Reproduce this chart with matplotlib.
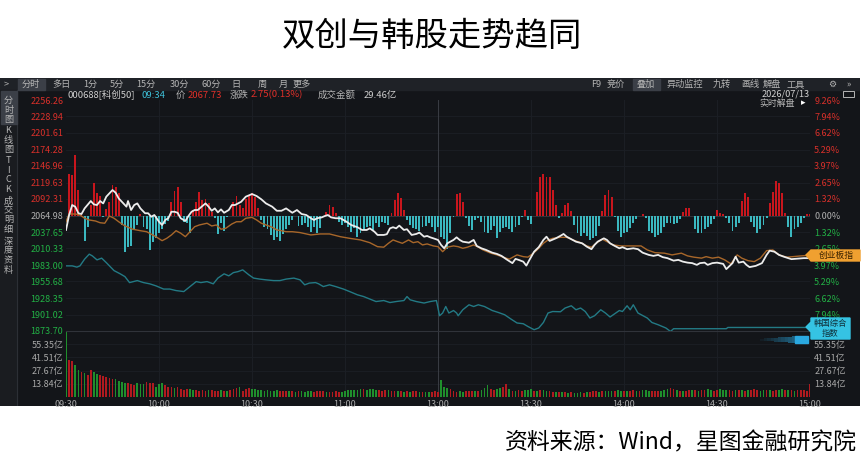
import matplotlib.pyplot as plt
from matplotlib.patches import Rectangle, Polygon

W, H = 865, 471
plt.rcParams['font.family'] = ['Noto Sans CJK SC', 'DejaVu Sans']

# ---- data ----
prev_close = 2064.98
price_ticks = [2256.26, 2228.94, 2201.61, 2174.28, 2146.96, 2119.63, 2092.31, 2064.98,
               2037.65, 2010.33, 1983.00, 1955.68, 1928.35, 1901.02, 1873.70]
pct_labels = ['9.26%', '7.94%', '6.62%', '5.29%', '3.97%', '2.65%', '1.32%', '0.00%',
              '1.32%', '2.65%', '3.97%', '5.29%', '6.62%', '7.94%', '']
vol_ticks = [13.84, 27.67, 41.51, 55.35]
time_ticks = [0, 30, 60, 90, 120, 150, 180, 210, 240]
time_labels = ['09:30', '10:00', '10:30', '11:00', '13:00', '13:30', '14:00', '14:30', '15:00']

# 科创50 (minute index, % change)
kc50_t = [0, 1, 2, 3, 4, 5, 6, 8, 9, 10, 11, 12, 13, 15, 16, 17, 18.5, 19.5, 20, 21, 22, 23, 24,
          25.5, 26.5, 27.5, 28.5, 30, 31, 32, 33, 34, 35, 36, 37, 38.5, 39.5, 40.5, 41.5, 42.5,
          44, 45, 46, 47, 48, 49, 50, 51, 52.5, 53.5, 54.5, 55.5, 56.5, 58, 60, 61.5, 63, 64.5,
          66.5, 68, 69.5, 71, 73, 74.5, 76, 77.5, 79, 80, 81, 82.5, 83.5, 84.5, 85.5, 87, 88.5,
          89.5, 90.5, 92, 94, 95.5, 97, 98, 99.5, 100.5, 102.5, 103.5, 104.5, 105.5, 106.5,
          107.5, 109, 110, 111.5, 113, 114, 115.5, 116.5, 117.5, 118.5, 120, 121, 122, 123, 125,
          126, 127, 128, 130, 131.5, 132.5, 134, 135.5, 137.5, 139, 140.5, 142, 144, 145, 146,
          147.5, 148.5, 149.5, 151, 152.5, 154, 155, 156, 158, 159.5, 160.5, 161.5, 163, 164.5,
          166.5, 168, 169.5, 170.5, 171.5, 173.5, 174.5, 175.5, 177, 178.5, 179.5, 181, 183,
          184.5, 186, 188, 189.5, 191, 192.5, 194, 196, 197.5, 199, 200.5, 202, 203.5, 204.5,
          206, 207, 208.5, 210, 212, 213, 215, 216, 217, 218.5, 219.5, 220.5, 222.5, 224.5, 226,
          227, 228.5, 230, 231.5, 234, 236, 238, 240]
kc50_pct = [-1.16, 0.04, 0.84, 0.70, 0.18, 0.12, 0.57, 1.16, 0.89, 0.84, 1.16, 0.97, 1.51, 2.04,
            1.83, 1.37, 0.97, 0.71, 1.16, 0.44, 0.84, 0.97, 0.57, 0.18, 0.18, -0.10, 0.04, -0.50,
            -0.76, -0.36, -0.22, 0.30, 0.30, 0.22, -0.22, -0.44, -0.04, 0.30, 0.44, 0.44, 0.76,
            0.97, 0.71, 0.38, 0.57, 0.25, 0.49, 0.22, 0.44, 0.84, 0.84, 0.97, 1.10, 1.51, 1.72,
            1.56, 1.30, 0.97, 0.71, 0.38, 0.38, 0.57, 0.22, 0.44, 0.12, 0.04, -0.22, -0.36, -0.22,
            -0.15, -0.04, 0.04, -0.15, -0.22, -0.22, -0.36, -0.50, -0.76, -0.94, -1.16, -1.16,
            -1.03, -1.30, -1.56, -1.56, -1.50, -1.03, -0.94, -1.03, -0.81, -1.16, -1.10, -1.56,
            -1.48, -1.37, -1.70, -1.64, -1.75, -1.83, -1.96, -2.36, -2.63, -2.23, -1.96, -1.75,
            -1.96, -2.10, -2.18, -1.96, -2.44, -2.63, -2.76, -2.98, -3.08, -3.24, -3.50, -3.82,
            -3.48, -3.56, -3.70, -4.02, -3.56, -2.90, -2.54, -1.96, -1.70, -2.04, -1.83, -1.63,
            -1.48, -1.70, -1.90, -2.10, -2.23, -2.50, -2.70, -2.36, -2.10, -1.83, -1.96, -2.23,
            -2.44, -2.63, -2.54, -2.70, -2.63, -2.70, -2.98, -3.16, -3.24, -3.16, -3.34, -3.42,
            -3.62, -3.56, -3.70, -3.78, -3.82, -3.96, -3.82, -3.78, -3.96, -3.82, -3.78, -3.88,
            -4.30, -3.82, -3.30, -3.78, -3.70, -3.96, -4.14, -4.04, -3.82, -3.16, -2.82, -2.90,
            -3.16, -3.30, -3.50, -3.46, -3.42, -3.42]

# 创业板指 (minute index, % change)
cyb_t = [0, 1, 3, 4.5, 6, 7.5, 9.5, 11, 12.5, 14, 15.5, 17, 18.5, 20, 21.5, 24, 26, 27.5, 29, 31,
         32.5, 34, 35.5, 37, 38.5, 40, 41.5, 43, 45.5, 47, 48.5, 50, 51.5, 53.5, 55, 56.5, 58, 60,
         61.5, 63, 64.5, 66.5, 68, 69.5, 71, 73, 75.5, 77.5, 79, 82, 85, 88.5, 91.5, 95, 98,
         100.5, 102.5, 104, 105.5, 107, 108.5, 110.5, 112, 113.5, 115, 116.5, 118.5, 120, 121.5,
         123, 125, 126.5, 128, 129.5, 131.5, 133, 134.5, 137, 139, 141, 143, 145.5, 147.5, 149,
         151, 152.5, 154, 155.5, 157, 159.5, 161.5, 163.5, 166, 168, 169.5, 171, 173, 174.5,
         176.5, 179, 181, 184, 185.5, 187.5, 190, 193, 195.5, 198.5, 200.5, 202.5, 205, 206.5,
         208.5, 210.5, 212.5, 214.5, 216.5, 218, 220, 222, 224, 226, 228, 230, 232.5, 234.5,
         237, 240]
cyb_pct = [-0.50, 0.12, 0.12, 0.04, -0.22, -0.36, -0.44, -0.58, -0.62, -0.04, -0.22, -0.50,
           -0.76, -0.94, -1.10, -1.22, -1.30, -1.50, -1.70, -2.02, -1.83, -1.56, -1.22, -1.42,
           -1.70, -1.30, -0.90, -0.76, -0.62, -0.84, -0.76, -1.10, -1.03, -0.68, -0.50, -0.50,
           -0.22, -0.15, -0.36, -0.62, -0.76, -0.94, -1.16, -1.22, -1.30, -1.30, -1.37, -1.48,
           -1.56, -1.48, -1.48, -1.70, -1.83, -1.96, -2.18, -2.50, -2.54, -2.23, -1.96, -2.10,
           -2.23, -1.96, -2.18, -2.10, -2.36, -2.28, -2.44, -2.50, -2.90, -2.54, -2.44, -2.50,
           -2.63, -2.54, -2.36, -2.54, -2.76, -3.02, -3.16, -3.34, -3.50, -3.16, -3.30, -3.34,
           -2.98, -2.63, -2.23, -1.96, -1.83, -1.75, -1.75, -1.96, -2.18, -2.44, -2.54, -2.23,
           -1.90, -2.10, -2.36, -2.44, -2.44, -2.44, -2.44, -2.76, -2.98, -3.02, -3.16, -3.02,
           -3.24, -3.34, -3.42, -3.30, -3.42, -3.34, -3.56, -3.88, -3.16, -3.42, -3.62, -3.70,
           -3.42, -2.82, -2.76, -3.16, -3.34, -3.30, -3.24, -3.19]

# 韩国综合指数 (minute index, % change on the same scale)
kospi_t = [0, 2, 3.5, 4.5, 6, 7.5, 8.5, 10, 11.5, 13, 15.5, 17.5, 19, 20.5, 23, 25, 27, 29,
           31.5, 33.5, 35.5, 38, 40, 42, 43.5, 45.5, 47.5, 49, 51, 52.5, 54, 55.5, 57, 59, 60.5,
           62.5, 64.5, 67, 69, 71, 73.5, 75.5, 77, 78.5, 80.5, 81.5, 83, 85, 87, 89.5, 91.5, 94,
           96, 98, 100, 102.5, 104.5, 106.5, 109, 110, 111, 113, 115.5, 117.5, 119.5, 120.5,
           121.5, 122.5, 123.5, 125, 126, 126.5, 128, 130, 131.5, 133, 135, 137.5, 139.5, 141.5,
           143.5, 145.5, 147.5, 149, 151, 152.5, 154, 155.5, 157, 159.5, 161, 163, 164.5, 166,
           167.5, 169, 170.5, 172.5, 174, 175.5, 177, 178.5, 179.5, 181, 182, 183, 184.5, 187.5,
           189, 191, 193.5, 195, 196, 203, 213, 213.5, 240]
kospi_pct = [-4.04, -4.04, -4.14, -4.04, -3.50, -3.10, -3.24, -3.56, -3.42, -3.78, -4.42, -4.68,
             -4.90, -5.38, -5.22, -5.38, -5.48, -5.64, -5.90, -5.90, -6.02, -6.10, -5.70, -5.30,
             -5.38, -5.30, -5.48, -5.02, -4.68, -4.84, -4.58, -4.50, -4.36, -4.76, -5.02, -5.10,
             -5.16, -5.22, -5.22, -5.10, -5.02, -5.16, -5.56, -5.42, -5.38, -5.48, -5.70, -5.56,
             -5.70, -5.90, -6.10, -6.36, -6.50, -6.70, -6.90, -6.82, -6.98, -6.90, -6.82, -6.50,
             -6.76, -6.90, -7.02, -6.90, -6.82, -8.04, -7.82, -7.30, -7.82, -7.62, -7.82, -8.04,
             -7.56, -7.16, -7.30, -7.16, -7.30, -7.62, -7.78, -7.96, -8.30, -8.62, -8.68, -8.90,
             -9.16, -9.02, -8.58, -7.82, -7.70, -7.72, -7.42, -7.24, -7.56, -7.42, -7.70, -8.22,
             -8.04, -7.56, -7.82, -8.14, -7.88, -7.62, -7.70, -7.24, -7.56, -7.16, -7.82, -8.22,
             -8.58, -8.76, -9.02, -9.30, -9.08, -9.08, -9.08, -8.98, -8.98]

# red / cyan flow bars, one per minute (same % scale)
flow = [0, 3.32, 3.21, 4.84, 2.04, 0.23, -2.01, -0.89, 0.84, 2.57,
        1.83, 1.56, -0.15, 0.52, 1.11, 2.44, 2.31, 1.77, -0.76, -2.89,
        -2.49, -2.44, -1.11, -0.76, 0.12, -0.95, -1.11, -2.76, -2.09, -1.83,
        -1.43, -1.11, -0.68, -0.41, 1.11, 1.99, 2.25, 1.11, -0.49, -0.63,
        -1.43, 0.44, 1.11, 1.91, 1.24, 1.29, 0.97, 0.31, -0.23, -1.51,
        -0.63, -1.21, -0.15, 0, 1.11, 1.56, 0.84, 0.57, 1.29, 1.64,
        1.83, 1.51, 0.57, -0.36, -0.95, -1.11, -1.56, -1.96, -1.70, -2.01,
        -1.48, -1.11, -0.76, -0.36, 0, -0.84, -0.76, -0.63, -0.95, -1.29,
        -0.95, -1.43, -1.03, 0, 0.31, 0.84, 0.65, 0.17, -0.49, -0.76,
        -0.63, -0.89, -1.29, -1.03, -1.70, -1.43, -1.16, -0.95, -0.84, -1.16,
        -0.63, -0.89, -0.49, -0.63, -0.76, 0.23, 1.24, 1.78, 1.38, 0.44,
        -0.36, -0.76, -1.03, -1.11, -1.21, -0.95, -0.84, -0.63, -0.89, -1.29,
        -0.89, -1.70, -1.91, -2.70, -1.43, -0.15, 1.71, 1.83, 1.11, -0.23,
        -0.84, -1.16, -0.36, -0.23, -0.49, -1.29, -1.43, -1.16, -0.84, -1.83,
        -1.29, -1.03, -0.89, -1.11, -1.29, -0.95, -0.76, -0.15, 0.44, -0.36,
        -0.68, 0, 1.91, 3.11, 3.32, 3.05, 3.05, 2.04, 0.84, -0.23,
        0.23, 0.84, 0.97, 0.39, -0.76, -1.43, -1.64, -1.43, -1.64, -1.96,
        -1.83, -1.64, -0.84, 0.39, 1.64, 2.04, 1.51, -0.15, -1.21, -1.70,
        -1.43, -1.29, -1.03, -0.63, -0.31, 0, 0.12, -0.23, -1.21, -1.43,
        -1.70, -1.56, -1.38, -0.95, -0.63, -0.57, -0.68, -0.57, -0.31, 0.31,
        0.57, 0.57, 0, -1.11, -1.38, -1.38, -1.11, -0.95, -0.68, -0.31,
        0.44, 0.23, 0.12, -0.23, -0.57, -1.21, -0.95, -0.57, 1.19, 1.83,
        1.46, -0.49, -0.95, -1.38, -1.11, -0.76, -0.23, 0.97, 1.91, 2.78,
        2.58, 1.83, 0.17, -0.95, -1.70, -1.11, -0.95, -0.63, -0.23, 0.12,
        0.12]

# turnover per minute (亿)
volume = [68.5, 38.8, 37.7, 33.6, 28.3, 26.6, 24.8, 23.1, 28.3, 26.6,
          24.1, 23.1, 22.0, 20.6, 19.6, 18.5, 18.5, 17.1, 16.1, 15.0,
          14.3, 13.6, 12.6, 14.3, 13.6, 13.6, 16.1, 14.3, 14.3, 10.8,
          13.6, 15.0, 12.6, 10.1, 10.1, 9.1, 10.1, 8.0, 7.3, 8.0,
          8.4, 7.3, 7.0, 6.6, 7.3, 6.6, 6.9, 7.3, 6.2, 6.6,
          6.9, 6.2, 6.6, 7.3, 8.4, 9.1, 10.8, 6.2, 8.0, 9.5,
          8.0, 8.4, 7.3, 7.3, 6.6, 6.9, 6.6, 6.2, 6.9, 6.6,
          6.2, 5.9, 6.2, 6.6, 5.6, 6.2, 6.6, 5.6, 5.9, 6.2,
          5.6, 5.9, 5.9, 6.2, 5.6, 5.2, 5.6, 5.9, 5.2, 5.6,
          6.6, 7.3, 7.3, 6.9, 7.3, 8.0, 8.0, 7.3, 8.0, 8.4,
          7.3, 6.9, 6.6, 7.3, 6.9, 6.2, 6.6, 6.2, 5.9, 5.6,
          6.2, 5.6, 6.2, 5.9, 5.2, 5.6, 4.9, 5.6, 4.9, 5.9,
          5.2, 17.8, 10.8, 9.1, 8.0, 6.6, 5.6, 6.6, 5.2, 5.9,
          6.2, 5.9, 6.6, 6.2, 7.3, 9.1, 12.2, 8.4, 7.3, 8.4,
          9.5, 10.8, 13.2, 8.0, 6.6, 6.2, 7.3, 6.6, 7.3, 7.3,
          8.0, 6.6, 6.6, 7.3, 6.9, 6.2, 5.9, 5.2, 5.6, 5.2,
          4.9, 5.6, 4.5, 4.9, 4.5, 4.2, 4.9, 4.5, 4.9, 5.6,
          5.9, 6.6, 5.6, 6.6, 6.2, 6.6, 6.2, 6.6, 6.9, 6.6,
          6.2, 5.9, 6.6, 6.9, 6.2, 6.6, 6.9, 7.3, 6.2, 6.6,
          5.9, 6.6, 6.2, 7.3, 8.4, 9.8, 8.0, 7.3, 6.6, 6.2,
          6.6, 6.9, 7.3, 7.3, 6.6, 6.9, 7.3, 8.0, 7.3, 6.6,
          6.9, 8.4, 7.3, 7.3, 6.9, 6.6, 7.3, 6.9, 7.3, 6.6,
          6.9, 7.3, 8.0, 7.3, 6.6, 6.9, 7.3, 7.3, 6.6, 6.9,
          7.3, 8.0, 7.3, 6.9, 7.3, 6.6, 6.9, 7.3, 6.9, 6.6,
          13.6]
# r = up minute, g = down minute
volume_dir = ('grrggrgrrg grrrrrgggg rrrgggrrrg ggrrrgrrrr ggrrrrgrrr grgrrrgrrr '
              'gggggggggr rrgrgrgggg rrrrgrrrrg ggggggrggg grrrgrrgrg rgrrgrggrr '
              'rgggrrrggr rrgrgggrrg grrgrgrrgg grgrggrrgr grgrgggrgr rrgrgggrgg '
              'rgrrgrgggr rrgggrrgrg rrgrgrrggr rgggrrgrgr grrrggrgrr ggrgrgrrrr r').replace(' ', '')

# ---- figure ----
fig = plt.figure(figsize=(W / 100, H / 100), dpi=100)
fig.patch.set_facecolor('white')


def box(x0, y0, x1, y1):
    return [x0 / W, 1 - y1 / H, (x1 - x0) / W, (y1 - y0) / H]


def to_price(p):
    return [prev_close * (1 + v / 100) for v in p]


fig.text(0.5, 1 - 36 / H, '双创与韩股走势趋同', fontsize=24, ha='center', va='center', color='black')
fig.text(857 / W, 1 - 443 / H, '资料来源：Wind，星图金融研究院', fontsize=16.5,
         ha='right', va='center', color='black')

# screenshot backdrop in pixel coordinates
bg = fig.add_axes(box(0, 78, 860, 406))
bg.set_xlim(0, 860)
bg.set_ylim(406, 78)
bg.axis('off')
bg.add_patch(Rectangle((0, 78), 860, 328, color='#131519', zorder=0))
bg.add_patch(Rectangle((0, 78), 860, 12, color='#1f2227', zorder=1))
bg.add_patch(Rectangle((0, 90), 17, 316, color='#1a1c20', zorder=1))
bg.plot([17, 17], [90, 406], color='#2c2f35', lw=0.8, zorder=2)
bg.add_patch(Rectangle((18, 79), 27, 11, color='#3b3f47', zorder=2))
bg.add_patch(Rectangle((633, 79), 27, 11, color='#3b3f47', zorder=2))
bg.add_patch(Rectangle((1, 91), 16, 33, color='#3b3f47', zorder=2))

gray = '#b4b4b4'
menu_l = [('>', 6), ('分时', 31), ('多日', 61), ('1分', 90), ('5分', 117), ('15分', 146),
          ('30分', 179), ('60分', 211), ('日', 236), ('周', 262), ('月', 283), ('更多', 302)]
for s, x in menu_l:
    bg.text(x, 84.5, s, fontsize=6.6, color=gray, ha='center', va='center', zorder=3)
menu_r = [('F9', 596), ('竞价', 616), ('叠加', 646), ('异动监控', 685), ('九转', 722),
          ('画线', 750), ('解盘', 772), ('工具', 796), ('⚙', 832), ('»', 849)]
for s, x in menu_r:
    bg.text(x, 84.5, s, fontsize=6.6, color=gray, ha='center', va='center', zorder=3)

tabs = [('分\n时\n图', 110), ('K\n线\n图', 140), ('T\nI\nC\nK', 175), ('成\n交\n明\n细', 215),
        ('深\n度\n资\n料', 256)]
for s, y in tabs:
    bg.text(8.5, y, s, fontsize=6.6, color=gray, ha='center', va='center', linespacing=1.05, zorder=3)

info = [('000688[科创50]', 67, '#d0d0d0'), ('09:34', 142, '#3fc1d9'), ('价', 176, gray),
        ('2067.73', 188, '#e0302a'), ('涨跌', 230, gray), ('2.75(0.13%)', 251, '#e0302a'),
        ('成交金额', 318, gray), ('29.46亿', 364, '#d0d0d0')]
for s, x, c in info:
    bg.text(x, 95, s, fontsize=6.8, color=c, ha='left', va='center', zorder=3)
bg.text(810, 94, '2026/07/13', fontsize=6.6, color='#d0d0d0', ha='right', va='center', zorder=3)
bg.text(795, 103.5, '实时解盘', fontsize=6.4, color=gray, ha='right', va='center', zorder=3)
bg.text(803, 103, '▸', fontsize=6.5, color='white', ha='center', va='center', zorder=3)
bg.add_patch(Rectangle((843, 91), 11, 6, fill=False, ec=gray, lw=0.7, zorder=3))

# ---- main price panel ----
ax = fig.add_axes(box(66, 100, 810, 331))
ax.set_facecolor('none')
ax.set_xlim(0, 240)
ax.set_ylim(price_ticks[-1], price_ticks[0])
for sp in ax.spines.values():
    sp.set_visible(False)
ax.tick_params(length=0, labelsize=6.5, pad=2)

for p in price_ticks[1:]:
    ax.axhline(p, color='#1c1f25', lw=0.6, zorder=0)
for t in time_ticks[1:-1]:
    ax.axvline(t, color='#3a3d44' if t == 120 else '#1c1f25', lw=0.7, zorder=0)
ax.axhline(prev_close, color='#3a3d44', lw=0.5, zorder=0)

lab_colors = ['#d9302a'] * 7 + ['#b0b0b0'] + ['#22b045'] * 7
ax.set_yticks(price_ticks)
ax.set_yticklabels([f'{p:.2f}' for p in price_ticks])
for lab, c in zip(ax.get_yticklabels(), lab_colors):
    lab.set_color(c)
ax.set_xticks([])

axr = ax.twinx()
axr.set_ylim(ax.get_ylim())
for sp in axr.spines.values():
    sp.set_visible(False)
axr.tick_params(length=0, labelsize=6.5, pad=3)
axr.set_yticks(price_ticks)
axr.set_yticklabels(pct_labels)
for lab, c in zip(axr.get_yticklabels(), lab_colors):
    lab.set_color(c)

# flow bars around the previous close
minutes = list(range(len(flow)))
flow_h = [prev_close * v / 100 for v in flow]
flow_c = ['#c8161d' if v > 0 else '#3bb8c0' for v in flow]
ax.bar(minutes, flow_h, bottom=prev_close, width=0.6, color=flow_c, zorder=2)

ax.plot(kospi_t, to_price(kospi_pct), color='#237a85', lw=1.0, zorder=3)
ax.plot(cyb_t, to_price(cyb_pct), color='#a8672a', lw=1.0, zorder=4)
ax.plot(kc50_t, to_price(kc50_pct), color='#ececec', lw=1.3, zorder=5)

# ---- volume panel ----
av = fig.add_axes(box(66, 331, 810, 397))
av.set_facecolor('none')
av.set_xlim(0, 240)
av.set_ylim(0, 69.2)
for sp in av.spines.values():
    sp.set_visible(False)
av.spines['top'].set_visible(True)
av.spines['top'].set_color('#30333a')
av.spines['top'].set_linewidth(0.8)
for v in vol_ticks:
    av.axhline(v, color='#1c1f25', lw=0.6, zorder=0)
for t in time_ticks[1:-1]:
    av.axvline(t, color='#3a3d44' if t == 120 else '#1c1f25', lw=0.7, zorder=0)
vol_c = ['#b01a1f' if d == 'r' else '#1f8f2c' for d in volume_dir]
av.bar(range(len(volume)), volume, width=0.55, color=vol_c, zorder=2)
av.set_yticks(vol_ticks)
av.set_yticklabels([f'{v:.2f}亿' for v in vol_ticks])
av.tick_params(length=0, labelsize=6.5, colors='#a8a8a8', pad=2)
av.set_xticks(time_ticks)
av.set_xticklabels(time_labels)
avr = av.twinx()
avr.set_ylim(0, 69.2)
for sp in avr.spines.values():
    sp.set_visible(False)
avr.set_yticks(vol_ticks)
avr.set_yticklabels([f'{v:.2f}亿' for v in vol_ticks])
avr.tick_params(length=0, labelsize=6.5, colors='#a8a8a8', pad=3)

# ---- tags on the right edge ----
ov = fig.add_axes(box(0, 0, W, H))
ov.set_xlim(0, W)
ov.set_ylim(H, 0)
ov.axis('off')
ov.add_patch(Polygon([(806, 255), (811, 250), (860, 250), (860, 261), (811, 261)],
                     color='#f0a030', zorder=5))
ov.text(836, 255.5, '创业板指', fontsize=6.3, color='#3a2200', ha='center', va='center', zorder=6)
ov.add_patch(Polygon([(806, 327), (811, 322), (811, 318), (850, 318), (850, 339), (811, 339),
                      (811, 332)], color='#35c3e3', zorder=5))
ov.text(830.5, 328.5, '韩国综合\n指数', fontsize=6.0, color='#10303a', ha='center', va='center',
        linespacing=1.1, zorder=6)
for i in range(10):
    ov.add_patch(Rectangle((760 + i * 3.5, 338.5 - i * 0.25), 3.5, 2 + i * 0.5,
                           color='#2aa8e0', alpha=0.06 + i * 0.05, lw=0, zorder=5))
ov.add_patch(Rectangle((795, 335.5), 13, 7.5, color='#2aa8e0', zorder=5))

fig.savefig('out.png', dpi=100, facecolor='white')
